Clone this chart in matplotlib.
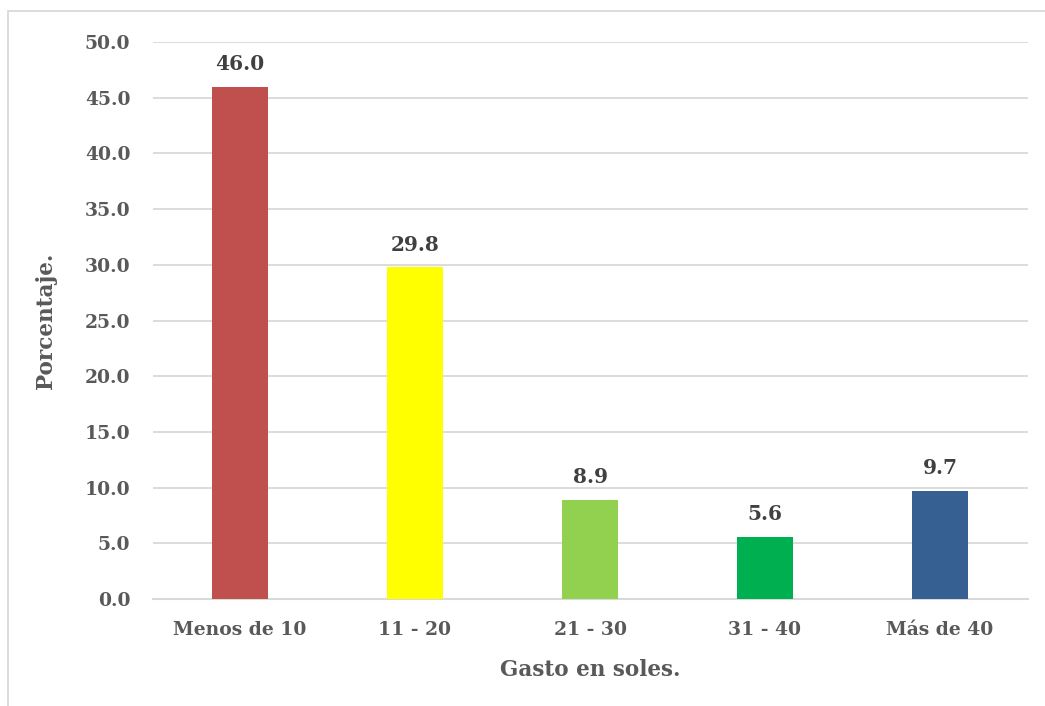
import matplotlib
matplotlib.use("Agg")
import matplotlib.pyplot as plt
from matplotlib.patches import Rectangle

categories = ["Menos de 10", "11 - 20", "21 - 30", "31 - 40", "Más de 40"]
values = [46.0, 29.8, 8.9, 5.6, 9.7]
colors = ["#C0504D", "#FFFF00", "#92D050", "#00B050", "#366092"]
yticks = [0, 5, 10, 15, 20, 25, 30, 35, 40, 45, 50]

plt.rcParams['font.family'] = ['DejaVu Serif']
plt.rcParams['font.weight'] = 'bold'

fig = plt.figure(figsize=(10.45, 7.06), dpi=100)
fig.patches.append(Rectangle((8/1045, -0.1), 1.2, 1 - 11/706 + 0.1, transform=fig.transFigure,
                             fill=False, edgecolor="#D9D9D9", linewidth=1.3, zorder=0))
ax = fig.add_axes([152.5/1045, 1 - 599/706, 875/1045, (599 - 42)/706])

x = list(range(len(categories)))
bars = ax.bar(x, values, width=0.32, color=colors, zorder=3)
for xi, v in zip(x, values):
    ax.annotate(f"{v:.1f}", (xi, v), xytext=(0, 9), textcoords="offset points",
                ha="center", va="bottom", fontsize=14.5, fontweight="bold", color="#404040")

ax.set_xlim(-0.5, len(categories) - 0.5)
ax.set_ylim(0, 50)
ax.set_yticks(yticks)
ax.set_yticklabels([f"{t:.1f}" for t in yticks])
ax.set_xticks(x)
ax.set_xticklabels(categories)
ax.tick_params(axis='both', length=0, labelsize=13.5, colors="#595959")
ax.tick_params(axis='y', pad=16)
ax.tick_params(axis='x', pad=16)
for lab in ax.get_xticklabels() + ax.get_yticklabels():
    lab.set_fontweight("bold")

ax.grid(axis='y', color="#D9D9D9", linewidth=1.3, zorder=0)
for s in ["top", "right", "left"]:
    ax.spines[s].set_visible(False)
ax.spines["bottom"].set_color("#D9D9D9")
ax.spines["bottom"].set_linewidth(1.5)

ax.set_xlabel("Gasto en soles.", fontsize=15.5, fontweight="bold", color="#595959", labelpad=14)
ax.set_ylabel("Porcentaje.", fontsize=15.5, fontweight="bold", color="#595959", labelpad=20)

fig.savefig("out.png", dpi=100)
